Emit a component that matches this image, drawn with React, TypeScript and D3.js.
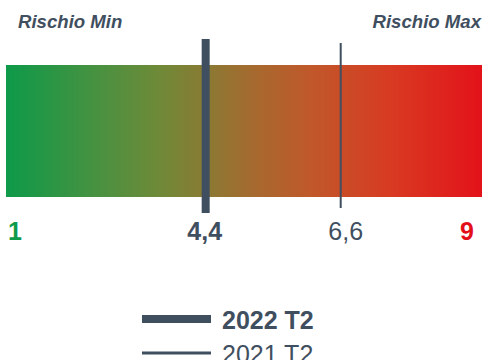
import React from "react";
import * as d3 from "d3";

const W = 483;
const H = 360;

// Risk scale and the two period readings
const scaleMin = 1;
const scaleMax = 9;
const periods = ["2022 T2", "2021 T2"];
const riskValues = [4.4, 6.6];
const gradientStops = ["#0d9a49", "#4a9140", "#6e8a38", "#a8682e", "#c0582a", "#d83a22", "#e3121a"];
const gradientOffsets = [0, 0.2, 0.32, 0.53, 0.64, 0.81, 1];

const SLATE = "#3f4f60";
const FONT = "'Liberation Sans', Arial, Helvetica, sans-serif";

const fmt = (v: number) => d3.format(".1f")(v).replace(".", ",");

export default function App() {
  const x = d3.scaleLinear().domain([scaleMin, scaleMax]).range([-3, 488]);
  const barLeft = 6;
  const barRight = 482;
  const barTop = 65;
  const barBottom = 197;

  const markerStyles = [
    { width: 8, top: 39, bottom: 213, weight: 700 },
    { width: 2, top: 43, bottom: 208, weight: 400 },
  ];

  return (
    <svg width={W} height={H} style={{ position: "absolute", left: 0, top: 0, display: "block" }}>
      <defs>
        <linearGradient id="riskGrad" x1="0" x2="1" y1="0" y2="0">
          {gradientStops.map((c, i) => (
            <stop key={i} offset={gradientOffsets[i]} stopColor={c} />
          ))}
        </linearGradient>
      </defs>
      <rect width={W} height={H} fill="#ffffff" />

      <text x={18} y={28} fontFamily={FONT} fontSize={18.6} fontWeight={700} fontStyle="italic" fill={SLATE}>
        Rischio Min
      </text>
      <text x={481} y={28} fontFamily={FONT} fontSize={18.6} fontWeight={700} fontStyle="italic" fill={SLATE} textAnchor="end">
        Rischio Max
      </text>

      <rect x={barLeft} y={barTop} width={barRight - barLeft} height={barBottom - barTop} fill="url(#riskGrad)" />

      {riskValues.map((v, i) => (
        <rect
          key={i}
          x={x(v) - markerStyles[i].width / 2}
          y={markerStyles[i].top}
          width={markerStyles[i].width}
          height={markerStyles[i].bottom - markerStyles[i].top}
          fill={SLATE}
        />
      ))}

      <text x={8} y={240} fontFamily={FONT} fontSize={25} fontWeight={700} fill="#0d9a49">
        {scaleMin}
      </text>
      <text x={474} y={240} fontFamily={FONT} fontSize={25} fontWeight={700} fill="#e3101a" textAnchor="end">
        {scaleMax}
      </text>
      {riskValues.map((v, i) => (
        <text
          key={i}
          x={x(v) + (i === 0 ? -1 : 5)}
          y={240}
          fontFamily={FONT}
          fontSize={25}
          fontWeight={markerStyles[i].weight}
          fill={SLATE}
          textAnchor="middle"
        >
          {fmt(v)}
        </text>
      ))}

      {periods.map((p, i) => {
        const cy = 319 + i * 34;
        return (
          <g key={p}>
            <rect x={142} y={cy - (i === 0 ? 4 : 1.5)} width={69} height={i === 0 ? 8 : 3} fill={SLATE} />
            <text x={222} y={cy + 10} fontFamily={FONT} fontSize={25} fontWeight={markerStyles[i].weight} fill={SLATE}>
              {p}
            </text>
          </g>
        );
      })}
    </svg>
  );
}
